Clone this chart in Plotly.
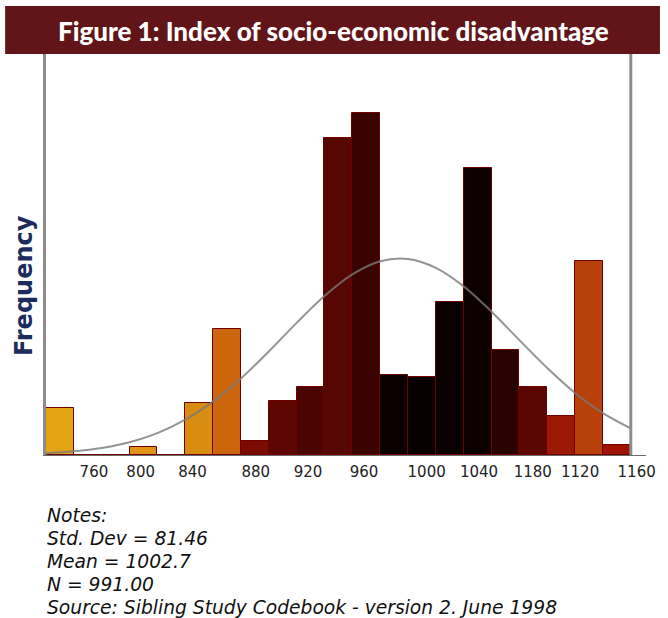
import plotly.graph_objects as go

# ---- data ----
bin_centers = [750, 770, 790, 810, 830, 850, 870, 890, 910, 930, 950,
               970, 990, 1010, 1030, 1050, 1070, 1090, 1110, 1130, 1150]
frequency = [23, 0, 0, 4, 0, 25, 61, 7, 26, 33, 154,
             166, 39, 38, 74, 139, 51, 33, 19, 94, 5]

curve_x = [740, 760, 780, 800, 820, 840, 860, 880, 900, 920, 940,
           960, 980, 1000, 1020, 1040, 1060, 1080, 1100, 1120, 1140, 1160]
curve_y = [0.9, 1.8, 3.4, 6.2, 10.6, 17.1, 26.0, 37.1, 50.2, 64.1, 77.1,
           87.6, 94.0, 95.1, 90.8, 81.8, 69.5, 55.7, 42.2, 30.1, 20.3, 12.9]

tick_labels = ["760", "800", "840", "880", "920", "960", "1000", "1040",
               "1180", "1120", "1160"]
tick_pos = [774.4, 808, 845.2, 890.6, 928.2, 968.4, 1013.4, 1051,
            1089.6, 1123.6, 1164.2]

title_text = "Figure 1: Index of socio-economic disadvantage"
notes_lines = ["Notes:", "Std. Dev = 81.46", "Mean = 1002.7", "N = 991.00",
               "Source: Sibling Study Codebook - version 2. June 1998"]

# ---- styles ----
bar_colors = ["#e4a414", "#e0a014", "#e0a014", "#e39417", "#d98c12", "#d98c12",
              "#cc660c", "#7c0c02", "#5e0702", "#4a0401", "#560603",
              "#3a0301", "#0a0000", "#080000", "#0a0000", "#0c0000",
              "#2a0201", "#5c0603", "#9c1a04", "#b8400a", "#a01204"]

fig = go.Figure()
fig.add_trace(go.Bar(
    x=bin_centers, y=frequency, width=20,
    marker=dict(color=bar_colors, line=dict(color="#6e0000", width=1)),
    showlegend=False, hoverinfo="x+y"))
fig.add_trace(go.Scatter(
    x=curve_x, y=curve_y, mode="lines",
    line=dict(color="#7a7a7a", width=2, shape="spline"),
    opacity=0.8, showlegend=False))

W, H = 668, 618
L, R, T, B = 46, 20, 54, 163
pw = W - L - R
ph = H - T - B

def px_x(p):
    return (p - L) / pw

def px_y(p):
    return (H - B - p) / ph

notes_y = [515, 538, 561, 584, 607]
annotations = [
    dict(text=title_text, xref="paper", yref="paper",
         x=px_x(334), y=px_y(31), xanchor="center", yanchor="middle",
         showarrow=False,
         font=dict(family="Lato", size=26, color="white", weight=900)),
    dict(text="<b>Frequency</b>", xref="paper", yref="paper",
         x=px_x(24), y=px_y(286), xanchor="center", yanchor="middle",
         textangle=-90, showarrow=False,
         font=dict(family="DejaVu Sans", size=24, color="#1c2c5c")),
]
for line, yy in zip(notes_lines, notes_y):
    annotations.append(dict(
        text="<i>" + line + "</i>", xref="paper", yref="paper",
        x=px_x(45), y=px_y(yy), xanchor="left", yanchor="middle",
        align="left", showarrow=False,
        font=dict(family="DejaVu Sans", size=18.7, color="#111111")))

fig.update_layout(
    width=W, height=H,
    margin=dict(l=L, r=R, t=T, b=B),
    paper_bgcolor="white", plot_bgcolor="white",
    bargap=0,
    xaxis=dict(range=[740, 740 + pw / 1.397], tickvals=tick_pos, ticktext=tick_labels,
               showgrid=False, zeroline=False, ticks="", ticklabelstandoff=3,
               showline=True, linecolor="#6a6a6a", linewidth=1,
               tickfont=dict(family="DejaVu Sans", size=15, color="#222222")),
    yaxis=dict(range=[0, 194.5], showticklabels=False, showgrid=False,
               zeroline=False, ticks="", showline=True,
               linecolor="#8c8c8c", linewidth=3),
    shapes=[
        dict(type="rect", xref="paper", yref="paper",
             x0=px_x(5), x1=px_x(662), y0=px_y(54), y1=px_y(6),
             fillcolor="#621519", line=dict(width=0), layer="above"),
        dict(type="line", xref="x", yref="paper", x0=1160, x1=1160,
             y0=0, y1=1, line=dict(color="#8c8c8c", width=3)),
    ],
    annotations=annotations,
)

fig.write_html("out.html", config={"displayModeBar": False},
               post_script="document.body.style.margin='0';")
